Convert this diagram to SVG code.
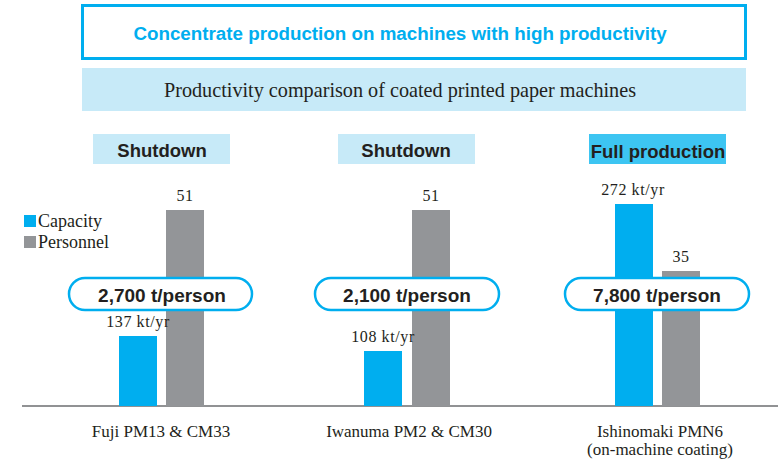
<svg xmlns="http://www.w3.org/2000/svg" width="784" height="463" viewBox="0 0 784 463">
<style>
.serif{font-family:"Liberation Serif","Times New Roman",serif;fill:#231F20}
.sans{font-family:"Liberation Sans",Arial,sans-serif;font-weight:bold;fill:#231F20}
.cap{fill:#00AEEF}
.per{fill:#939598}
.pill{fill:#fff;stroke:#00AEEF;stroke-width:2.5}
.tag{fill:#C7EAF8}
.num{font-size:16px;letter-spacing:0.6px}
.lbl{font-size:17px}
</style>
<rect width="784" height="463" fill="#fff"/>
<g id="title">
<rect x="82.5" y="5.5" width="663" height="53" fill="#fff" stroke="#00AEEF" stroke-width="3"/>
<text x="400" y="40" text-anchor="middle" class="sans" style="fill:#00AEEF" font-size="18.8">Concentrate production on machines with high productivity</text>
</g>
<g id="subtitle">
<rect x="82" y="68" width="664" height="43" class="tag"/>
<text x="400" y="97" text-anchor="middle" class="serif" font-size="20.2">Productivity comparison of coated printed paper machines</text>
</g>
<g id="legend">
<rect x="24" y="215" width="12" height="12" class="cap"/>
<text x="38" y="227" class="serif" font-size="18">Capacity</text>
<rect x="24" y="236" width="12" height="12" class="per"/>
<text x="38" y="248" class="serif" font-size="18">Personnel</text>
</g>
<g id="axis">
<line x1="22" y1="406" x2="778" y2="406" stroke="#6D6E71" stroke-width="1.5"/>
</g>
<g id="fuji">
<rect x="93" y="134" width="137" height="30" class="tag"/>
<text x="162" y="157" text-anchor="middle" class="sans" font-size="18.5">Shutdown</text>
<rect x="119" y="336" width="38" height="70" class="cap"/>
<rect x="166" y="210" width="38" height="196" class="per"/>
<text x="185" y="201" text-anchor="middle" class="serif num">51</text>
<text x="138" y="327" text-anchor="middle" class="serif num">137 kt/yr</text>
<rect x="69" y="278" width="183" height="32" rx="16" class="pill"/>
<text x="162" y="302" text-anchor="middle" class="sans" font-size="19">2,700 t/person</text>
<text x="161" y="437" text-anchor="middle" class="serif lbl">Fuji PM13 &amp; CM33</text>
</g>
<g id="iwanuma">
<rect x="338" y="134" width="137" height="30" class="tag"/>
<text x="406" y="157" text-anchor="middle" class="sans" font-size="18.5">Shutdown</text>
<rect x="364" y="351" width="38" height="55" class="cap"/>
<rect x="412" y="210" width="38" height="196" class="per"/>
<text x="431" y="201" text-anchor="middle" class="serif num">51</text>
<text x="383" y="342" text-anchor="middle" class="serif num">108 kt/yr</text>
<rect x="315" y="278" width="184" height="32" rx="16" class="pill"/>
<text x="407" y="302" text-anchor="middle" class="sans" font-size="19">2,100 t/person</text>
<text x="409" y="437" text-anchor="middle" class="serif lbl">Iwanuma PM2 &amp; CM30</text>
</g>
<g id="ishinomaki">
<rect x="589" y="134" width="137" height="30" fill="#3DC5F2"/>
<text x="658" y="158" text-anchor="middle" class="sans" font-size="18.5">Full production</text>
<rect x="615" y="204" width="38" height="202" class="cap"/>
<rect x="662" y="271" width="38" height="135" class="per"/>
<text x="681" y="262" text-anchor="middle" class="serif num">35</text>
<text x="633" y="195" text-anchor="middle" class="serif num">272 kt/yr</text>
<rect x="565" y="278" width="184" height="32" rx="16" class="pill"/>
<text x="657" y="302" text-anchor="middle" class="sans" font-size="19">7,800 t/person</text>
<text x="660" y="437" text-anchor="middle" class="serif lbl">Ishinomaki PMN6</text>
<text x="660" y="455" text-anchor="middle" class="serif lbl">(on-machine coating)</text>
</g>
</svg>
